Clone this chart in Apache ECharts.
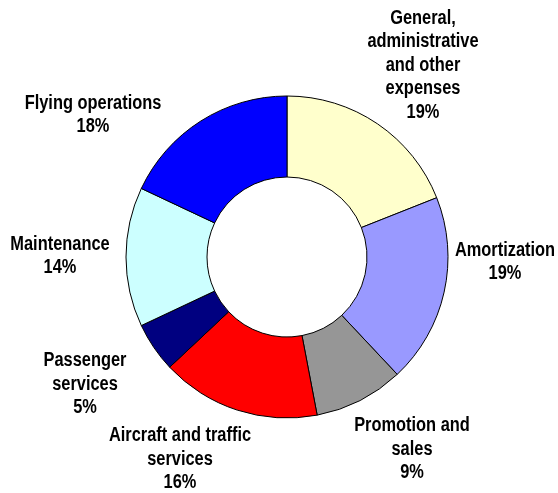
<!DOCTYPE html>
<html>
<head>
<meta charset="utf-8">
<script src="https://cdn.jsdelivr.net/npm/echarts@6/dist/echarts.min.js"></script>
<style>
  html, body { margin: 0; padding: 0; background: #ffffff; }
  #chart { width: 558px; height: 493px; }
</style>
</head>
<body>
<div id="chart"></div>
<script>
// Operating expense breakdown, clockwise from the top
const categories = [
  'General,\nadministrative\nand other\nexpenses',
  'Amortization',
  'Promotion and\nsales',
  'Aircraft and traffic\nservices',
  'Passenger\nservices',
  'Maintenance',
  'Flying operations'
];
const shares = [19, 19, 9, 16, 5, 14, 18];
const sliceColors = ['#FFFFCC', '#9999FF', '#969696', '#FF0000', '#000080', '#CCFFFF', '#0000FF'];

// Centre of each label block
const labelCenters = [
  [423, 65], [505, 262], [412, 449], [180, 459], [85, 384], [60, 256], [93, 115]
];

const chart = echarts.init(document.getElementById('chart'), null, { renderer: 'canvas' });

// Narrow bold labels: regular bold face squeezed horizontally
const labelFont = 'bold 20px "Liberation Sans", Arial, sans-serif';
const labelTexts = categories.map((name, i) => ({
  type: 'text',
  silent: true,
  x: labelCenters[i][0],
  y: labelCenters[i][1],
  scaleX: 0.82,
  style: {
    text: name + '\n' + shares[i] + '%',
    font: labelFont,
    lineHeight: 23.5,
    fill: '#000000',
    textAlign: 'center',
    textVerticalAlign: 'middle'
  }
}));

chart.setOption({
  backgroundColor: '#ffffff',
  animation: false,
  series: [{
    type: 'pie',
    center: [287, 257],
    radius: [80, 161],
    startAngle: 90,
    clockwise: true,
    avoidLabelOverlap: false,
    emphasis: { disabled: true },
    data: categories.map((name, i) => ({
      name: name,
      value: shares[i],
      itemStyle: { color: sliceColors[i] }
    })),
    itemStyle: { borderColor: '#000000', borderWidth: 1 },
    label: { show: false },
    labelLine: { show: false }
  }],
  graphic: labelTexts.concat([{
    type: 'polyline',
    silent: true,
    shape: { points: [[358.5, 113], [358.5, 128.5], [382, 128.5]] },
    style: { stroke: '#ffffff', lineWidth: 1, fill: null }
  }])
});
</script>
</body>
</html>
